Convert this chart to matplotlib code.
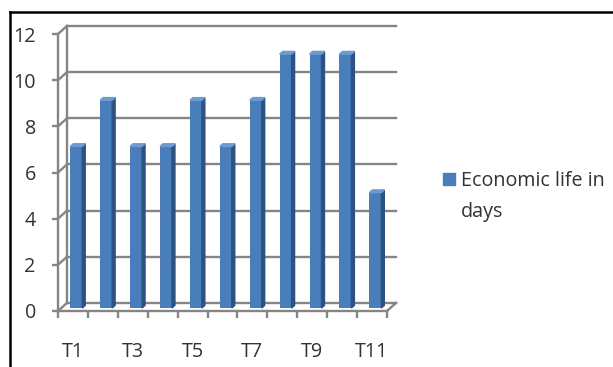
import numpy as np
import matplotlib
matplotlib.use('Agg')
from matplotlib import pyplot as plt
from matplotlib.patches import Polygon, Rectangle
from matplotlib.lines import Line2D

categories = ['T1', 'T2', 'T3', 'T4', 'T5', 'T6', 'T7', 'T8', 'T9', 'T10', 'T11']
days = [7, 9, 7, 7, 9, 7, 9, 11, 11, 11, 5]
yticks = [0, 2, 4, 6, 8, 10, 12]
legend_lines = ['Economic life in', 'days']

plt.rcParams['font.family'] = ['Open Sans', 'DejaVu Sans']

W, H = 613, 367
fig = plt.figure(figsize=(W / 100, H / 100), dpi=100)
ax = fig.add_axes([58 / W, (H - 311) / H, 329 / W, 277 / H])

n = len(categories)
ymax = yticks[-1]
# fake 3d depth of the plot box (in data units)
dx, dy = 0.30, 0.35
grid = '#858585'
txt = '#333333'
fs = 14.2

# back wall, side wall and floor lines
for v in yticks:
    ax.plot([dx, n + dx], [v + dy, v + dy], color=grid, lw=1.7, clip_on=False, zorder=1)
    ax.plot([0, dx], [v, v + dy], color=grid, lw=1.7, clip_on=False, zorder=1)
ax.plot([dx, dx], [dy, ymax + dy], color=grid, lw=1.7, clip_on=False, zorder=1)
ax.plot([n, n + dx], [0, dy], color=grid, lw=1.7, clip_on=False, zorder=1)

# bars: front face sits part way into the box
f, depth, w = 0.37, 0.33, 0.4
xc = np.arange(n) + 0.5 + f * dx
base = f * dy
bx, by = depth * dx, depth * dy
front = '#4a7ebb'
side = '#2c5282'
top = '#6e9ad2'
ax.bar(xc, days, width=w, bottom=base, color=front, zorder=3, clip_on=False)
for x, v in zip(xc, days):
    xl, xr = x - w / 2, x + w / 2
    ax.add_patch(Polygon([(xr, base), (xr + bx, base + by), (xr + bx, base + v + by), (xr, base + v)],
                         closed=True, color=side, zorder=3, clip_on=False))
    ax.add_patch(Polygon([(xl, base + v), (xl + bx, base + v + by), (xr + bx, base + v + by), (xr, base + v)],
                         closed=True, color=top, zorder=3, clip_on=False))

ax.set_xlim(0, n)
ax.set_ylim(0, ymax)
for s in ['top', 'right']:
    ax.spines[s].set_visible(False)
for s in ['left', 'bottom']:
    ax.spines[s].set_color(grid)
    ax.spines[s].set_linewidth(1.7)
ax.patch.set_visible(False)

ax.set_yticks(yticks)
ax.tick_params(axis='y', length=4, width=1.7, color=grid, pad=12, labelsize=fs, labelcolor=txt)
ax.set_xticks(np.arange(n + 1))
ax.set_xticklabels([])
ax.set_xticks(np.arange(n) + 0.5, minor=True)
ax.set_xticklabels([c if i % 2 == 0 else '' for i, c in enumerate(categories)], minor=True)
ax.tick_params(axis='x', which='major', length=5, width=1.7, color=grid)
ax.tick_params(axis='x', which='minor', length=0, pad=22, labelsize=fs, labelcolor=txt)

# legend
fig.add_artist(Rectangle((443 / W, 1 - 185 / H), 12 / W, 12 / H, color=front, transform=fig.transFigure))
fig.text(461 / W, 1 - 186 / H, legend_lines[0], fontsize=fs, color=txt, va='baseline')
fig.text(461 / W, 1 - 217 / H, legend_lines[1], fontsize=fs, color=txt, va='baseline')

# outer frame (top and left edges visible)
fig.add_artist(Line2D([10 / W, 1], [1 - 12 / H, 1 - 12 / H], color='black', lw=1.8))
fig.add_artist(Line2D([10 / W, 10 / W], [0, 1 - 12 / H], color='black', lw=1.8))

fig.savefig('out.png', dpi=100)
